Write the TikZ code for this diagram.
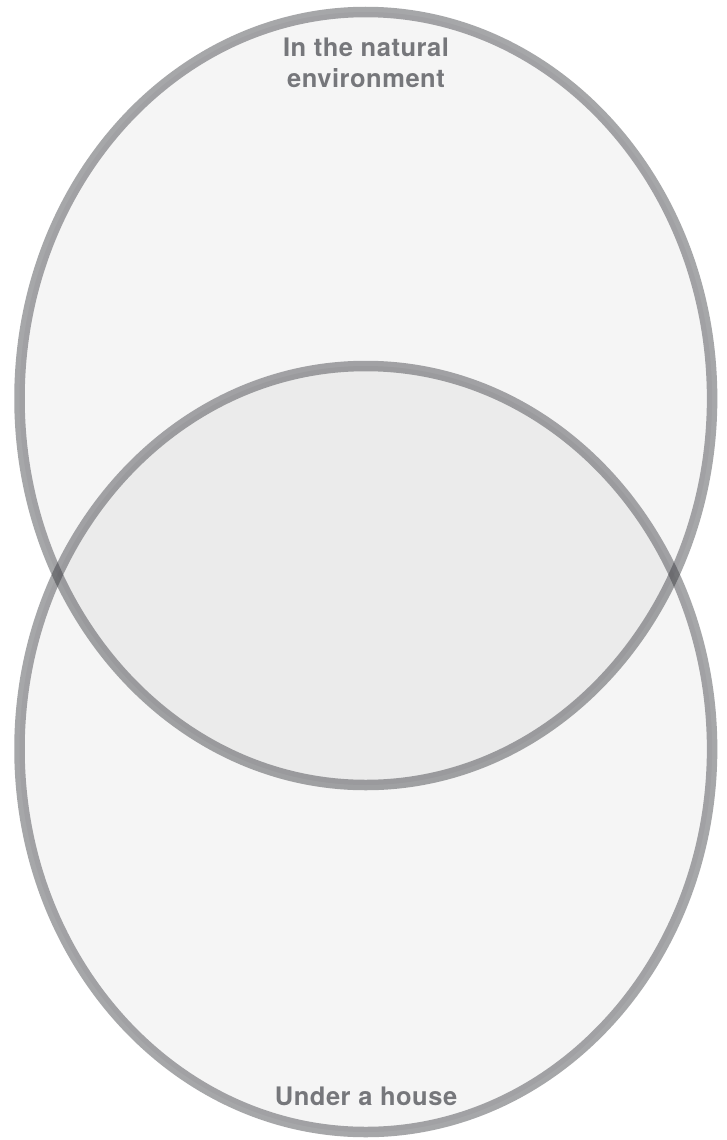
\documentclass[tikz,border=0pt]{standalone}
\usepackage{fontspec}
\setmainfont{TeX Gyre Heros}[LetterSpace=2]
\definecolor{ringcol}{RGB}{45,46,52}
\definecolor{labelcol}{RGB}{118,119,123}
\tikzset{
  ring/.style={draw=ringcol, draw opacity=0.42, fill=black, fill opacity=0.04, line width=10.5pt},
  lbl/.style={text=labelcol, font=\fontsize{25.5}{32}\selectfont\bfseries, align=center, inner sep=0pt, anchor=base}
}
\begin{document}
\begin{tikzpicture}[x=1pt,y=-1pt]
\useasboundingbox (0,0) rectangle (726,1140);
\fill[white] (0,0) rectangle (726,1140);
\path[ring] (365.8,398.5) ellipse [x radius=346.3, y radius=386.5];
\path[ring] (365.8,749) ellipse [x radius=346.3, y radius=383];
\node[lbl] (top) at (366,88) {In the natural\\environment};
\node[lbl] (bottom) at (366,1105) {Under a house};
\end{tikzpicture}
\end{document}
